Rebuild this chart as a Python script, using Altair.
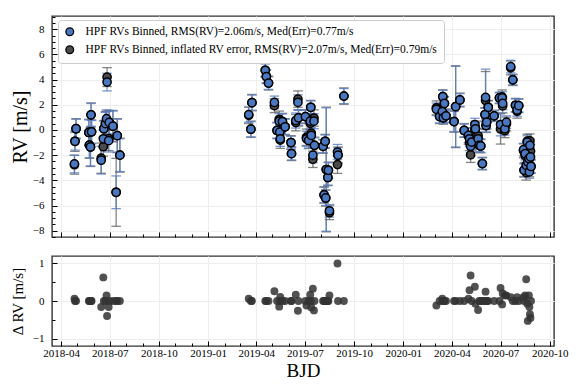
import altair as alt
import pandas as pd

# ---------------- data ----------------
bjd_dates = [
    # 2018 season
    "2018-04-26", "2018-04-27", "2018-04-29", "2018-05-23", "2018-05-24", "2018-05-26",
    "2018-05-27", "2018-05-28", "2018-06-15", "2018-06-19", "2018-06-20", "2018-06-23",
    "2018-06-25", "2018-06-26", "2018-06-29", "2018-06-30", "2018-07-07", "2018-07-13",
    "2018-07-15", "2018-07-20",
    # 2019 season
    "2019-03-18", "2019-03-22", "2019-03-24", "2019-04-18", "2019-04-20", "2019-04-24",
    "2019-05-05", "2019-05-10", "2019-05-14", "2019-05-15", "2019-05-16", "2019-05-20",
    "2019-05-25", "2019-06-05", "2019-06-06", "2019-06-14", "2019-06-18", "2019-06-19",
    "2019-07-02", "2019-07-04", "2019-07-08", "2019-07-11", "2019-07-12", "2019-07-13",
    "2019-07-16", "2019-07-18", "2019-07-19", "2019-08-04", "2019-08-06", "2019-08-08",
    "2019-08-09", "2019-08-10", "2019-08-13", "2019-08-14", "2019-08-16", "2019-08-31",
    "2019-09-01", "2019-09-12",
    # 2020 season
    "2020-03-03", "2020-03-09", "2020-03-14", "2020-03-15", "2020-03-16", "2020-03-18",
    "2020-03-21", "2020-04-05", "2020-04-08", "2020-04-16", "2020-04-24", "2020-05-02",
    "2020-05-04", "2020-05-06", "2020-05-08", "2020-05-14", "2020-05-15", "2020-05-20",
    "2020-05-22", "2020-05-25", "2020-05-28", "2020-06-02", "2020-06-03", "2020-06-04",
    "2020-06-05", "2020-06-08", "2020-06-19", "2020-06-29", "2020-07-01", "2020-07-04",
    "2020-07-05", "2020-07-09", "2020-07-12", "2020-07-20", "2020-07-24", "2020-07-29",
    "2020-08-01", "2020-08-04", "2020-08-13", "2020-08-14", "2020-08-16", "2020-08-18",
    "2020-08-20", "2020-08-21", "2020-08-23", "2020-08-24", "2020-08-25", "2020-08-26",
    "2020-08-27",
]

rv_ms = [
    -2.7, -0.9, 0.1, -0.2, -1.2, -1.35, 1.2, -0.15, -2.4, -0.7, 0.1, 0.5,
    0.9, 3.8, -0.85, 0.6, 0.3, -4.95, -0.45, -2.0,
    1.22, 0.06, 2.17, 4.74, 4.24, 3.72, 2.19, -0.04, 0.7, -0.17, -0.7, 0.67,
    0.25, -1.0, -1.88, 0.75, 2.19, 0.96, 1.06, -0.7, -0.83, 0.7, 1.8, -0.43,
    -2.0, 0.7, -1.22, -1.3, -5.16, -0.9, -5.4, -3.14, -3.77, -3.2, -6.42, -1.75,
    -2.0, 2.69,
    1.64, 1.06, 1.46, 2.64, 0.96, 2.11, 1.12, 0.67, 1.85, 2.38, -0.04, -0.43,
    -0.7, -1.3, -0.96, 0.43, 0.09, -0.7, -1.22, -1.27, -2.67, 1.22, 2.59, 0.35,
    0.62, 1.8, 1.12, 2.54, 0.43, 2.54, 2.11, 0.09, 0.62, 5.03, 3.98, 1.96,
    1.59, 1.93, -1.56, -3.19, -1.88, -2.8, -0.96, -2.54, -2.27, -3.33, -1.22, -2.14,
    -2.9,
]

rv_err_ms = [
    0.7, 0.7, 0.75, 1.0, 1.0, 1.5, 0.9, 0.9, 1.1, 0.7, 0.6, 0.9,
    0.7, 0.7, 0.9, 0.9, 1.2, 1.3, 1.3, 1.3,
    0.6, 0.6, 0.6, 0.5, 0.5, 0.5, 0.5, 0.6, 0.6, 0.6, 0.6, 0.6,
    0.6, 0.5, 0.5, 0.6, 0.6, 0.6, 0.5, 0.6, 0.6, 0.6, 0.5, 0.6,
    0.6, 0.6, 0.6, 0.5, 0.6, 0.5, 0.6, 4.9, 0.6, 0.6, 0.5, 0.6,
    0.6, 0.6,
    0.5, 0.5, 0.5, 0.5, 0.45, 0.5, 0.5, 0.8, 3.2, 0.5, 0.5, 0.6,
    0.6, 0.5, 0.6, 0.5, 0.5, 0.5, 0.5, 0.5, 0.45, 0.5, 2.24, 0.5,
    0.5, 0.5, 0.4, 0.4, 0.9, 0.5, 0.5, 0.5, 0.5, 0.5, 0.4, 0.5,
    0.5, 0.5, 0.5, 0.5, 0.5, 0.5, 0.5, 0.5, 0.5, 0.5, 0.5, 0.5,
    0.5,
]

rv_err_infl_ms = [
    0.75, 0.8, 0.8, 1.05, 1.05, 1.55, 0.95, 0.95, 1.2, 0.75, 0.65, 0.95,
    0.75, 0.75, 0.95, 0.95, 1.25, 2.7, 1.35, 1.35,
    0.65, 0.65, 0.65, 0.55, 0.55, 0.55, 0.55, 0.65, 0.65, 0.65, 0.65, 0.65,
    0.65, 0.55, 0.55, 0.65, 0.65, 0.65, 0.55, 0.65, 0.65, 0.65, 0.55, 0.65,
    0.65, 0.65, 0.65, 0.55, 0.65, 0.55, 0.65, 4.95, 0.65, 0.65, 0.55, 0.7,
    0.65, 0.65,
    0.55, 0.55, 0.55, 0.55, 0.5, 0.55, 0.55, 0.85, 3.25, 0.55, 0.55, 0.65,
    0.65, 0.6, 0.65, 0.55, 0.55, 0.55, 0.55, 0.55, 0.5, 0.55, 2.3, 0.55,
    0.55, 0.55, 0.45, 0.45, 1.2, 0.55, 0.55, 0.55, 0.55, 0.55, 0.45, 0.55,
    0.55, 0.55, 0.55, 0.55, 0.55, 0.6, 0.55, 0.55, 0.55, 0.55, 0.55, 0.55,
    0.55,
]

# difference binned RV minus inflated-error binned RV (lower panel)
delta_rv_ms = [
    0.06, 0.0, 0.0, 0.0, 0.0, 0.0, 0.0, 0.0, -0.16, 0.63, 0.0, 0.0,
    0.15, -0.4, -0.16, 0.0, 0.0, 0.0, 0.0, 0.0,
    0.06, 0.0, 0.0, 0.0, 0.0, 0.0, 0.26, 0.0, -0.15, 0.0, 0.11, 0.0,
    0.0, 0.0, 0.0, 0.17, -0.26, 0.0, 0.0, -0.12, 0.0, 0.17, 0.0, -0.17,
    0.33, -0.25, 0.0, 0.0, 0.0, 0.0, 0.0, 0.0, 0.0, 0.0, 0.15, 1.0,
    0.0, 0.0,
    -0.12, 0.0, 0.06, 0.0, 0.0, 0.0, 0.0, 0.0, 0.0, 0.0, 0.0, 0.06,
    0.29, 0.68, 0.0, 0.38, -0.07, -0.24, 0.0, 0.0, 0.0, 0.0, 0.25, 0.0,
    0.0, 0.0, 0.0, 0.0, 0.35, -0.09, 0.2, 0.15, 0.15, 0.1, 0.0, 0.0,
    0.1, 0.0, 0.1, 0.0, 0.15, 0.58, -0.07, -0.53, 0.15, -0.16, -0.35, -0.45,
    0.0,
]

label_a = "HPF RVs Binned, RMS(RV)=2.06m/s, Med(Err)=0.77m/s"
label_b = "HPF RVs Binned, inflated RV error, RMS(RV)=2.07m/s, Med(Err)=0.79m/s"

x_tick_months = [(2018, 4), (2018, 7), (2018, 10), (2019, 1), (2019, 4), (2019, 7),
                 (2019, 10), (2020, 1), (2020, 4), (2020, 7), (2020, 10)]
x_minor_months = [(y, m) for y in (2018, 2019, 2020) for m in range(1, 13)
                  if (2018, 4) <= (y, m) <= (2020, 10)]
x_domain = [(2018, 3, 15), (2020, 10, 9)]
y_top_ticks = [-8, -6, -4, -2, 0, 2, 4, 6, 8]
y_top_minor = [v / 2 for v in range(-17, 19)]
y_top_domain = [-8.5, 9.05]
y_bot_ticks = [-1, 0, 1]
y_bot_minor = [-1.0, -0.5, 0.0, 0.5, 1.0]
y_bot_domain = [-1.2, 1.2]

# ---------------- tables ----------------
rows = []
for d, r, e, ei, dl in zip(bjd_dates, rv_ms, rv_err_ms, rv_err_infl_ms, delta_rv_ms):
    ri = r - dl
    rows.append(dict(bjd=d, series=label_b, bars=label_b, z=0, rv=ri, lo=ri - ei, hi=ri + ei))
    rows.append(dict(bjd=d, series=label_a, bars=label_a, z=1, rv=r, lo=r - e, hi=r + e))
top_df = pd.DataFrame(rows)
bot_df = pd.DataFrame({"bjd": bjd_dates, "delta": delta_rv_ms})

FONT = "Liberation Serif"
BLUE_FILL = "#4a78c0"
BLUE_BAR = "#5a7fc2"
GRAY_FILL = "#4b4b4b"
GRAY_BAR = "#666666"
GRID = "#eeeeee"

xticks = [alt.DateTime(year=y, month=m, date=1, utc=True) for y, m in x_tick_months]
xminor = [alt.DateTime(year=y, month=m, date=1, utc=True) for y, m in x_minor_months]
xdom = [alt.DateTime(year=y, month=m, date=d, utc=True) for y, m, d in x_domain]
xscale = alt.Scale(type="utc", domain=xdom)

TICK = 5
MTICK = 3
x_axis_top = alt.Axis(values=xticks, labels=False, title=None, offset=-TICK, tickSize=TICK,
                      domain=False, grid=True, gridColor=GRID, tickColor="black", orient="bottom")
x_axis_bot = alt.Axis(values=xticks, format="%Y-%m", title="BJD", offset=-TICK, tickSize=TICK,
                      domain=False, grid=True, gridColor=GRID, tickColor="black",
                      labelPadding=1, titlePadding=3, labelFlush=False, titleFontSize=19,
                      orient="bottom")
y_axis_top = alt.Axis(values=y_top_ticks, title="RV [m/s]", offset=-TICK, tickSize=TICK,
                      domain=False, grid=True, gridColor=GRID, tickColor="black",
                      labelPadding=8, titlePadding=2, titleFontSize=20, orient="left")
y_axis_bot = alt.Axis(values=y_bot_ticks, title="Δ RV [m/s]", offset=-TICK, tickSize=TICK,
                      domain=False, grid=True, gridColor=GRID, tickColor="black",
                      labelPadding=8, titlePadding=7, titleFontSize=15, orient="left")


def minor_x_axis():
    return alt.Axis(values=xminor, labels=False, title=None, offset=-MTICK, tickSize=MTICK,
                    domain=False, grid=False, tickColor="black", orient="bottom")


def minor_y_axis(vals):
    return alt.Axis(values=vals, labels=False, title=None, offset=-MTICK, tickSize=MTICK,
                    domain=False, grid=False, tickColor="black", orient="left")


ys_top = alt.Scale(domain=y_top_domain, nice=False, zero=False)
ys_bot = alt.Scale(domain=y_bot_domain, nice=False, zero=False)

color_enc = alt.Color(
    "series:N", scale=alt.Scale(domain=[label_a, label_b], range=[BLUE_FILL, GRAY_FILL]),
    legend=alt.Legend(title=None, orient="none", legendX=6, legendY=4, fillColor="white",
                      strokeColor="#cccccc", cornerRadius=3, padding=6, labelFont=FONT,
                      labelFontSize=11.5, labelColor="black", labelLimit=600, symbolSize=60,
                      symbolStrokeColor="black", symbolStrokeWidth=1.3, symbolType="circle",
                      rowPadding=4, labelOffset=10))
stroke_enc = alt.Stroke("bars:N",
                        scale=alt.Scale(domain=[label_a, label_b], range=[BLUE_BAR, GRAY_BAR]),
                        legend=None)
X_top = alt.X("bjd:T", scale=xscale, axis=x_axis_top)

base = alt.Chart(top_df)
rules = base.mark_rule(strokeWidth=1.3, opacity=0.8).encode(
    x=X_top, y=alt.Y("lo:Q", scale=ys_top, axis=y_axis_top), y2="hi:Q",
    stroke=stroke_enc, order=alt.Order("z:Q"))
caps = base.transform_fold(["lo", "hi"], as_=["end", "yv"]).mark_point(
    shape="M -1 0 L 1 0", filled=False, size=90, strokeWidth=1.3, opacity=0.8).encode(
    x=X_top, y=alt.Y("yv:Q", scale=ys_top, axis=y_axis_top),
    stroke=stroke_enc, order=alt.Order("z:Q"))
pts = base.mark_circle(size=68, stroke="black", strokeWidth=1.5, opacity=1).encode(
    x=X_top, y=alt.Y("rv:Q", scale=ys_top, axis=y_axis_top), color=color_enc,
    order=alt.Order("z:Q"))

top_main = alt.layer(rules, caps, pts)
top_minor = alt.Chart(top_df).mark_point(opacity=0).encode(
    x=alt.X("bjd:T", scale=xscale, axis=minor_x_axis()),
    y=alt.Y("rv:Q", scale=ys_top, axis=minor_y_axis(y_top_minor)),
)
top = alt.layer(top_main, top_minor).resolve_axis(x="independent", y="independent").properties(
    width=502, height=221)

bot_main = alt.Chart(bot_df).mark_circle(size=62, color="#333333", opacity=0.85).encode(
    x=alt.X("bjd:T", scale=xscale, axis=x_axis_bot),
    y=alt.Y("delta:Q", scale=ys_bot, axis=y_axis_bot),
)
bot_minor = alt.Chart(bot_df).mark_point(opacity=0).encode(
    x=alt.X("bjd:T", scale=xscale, axis=minor_x_axis()),
    y=alt.Y("delta:Q", scale=ys_bot, axis=minor_y_axis(y_bot_minor)),
)
bottom = alt.layer(bot_main, bot_minor).resolve_axis(x="independent", y="independent").properties(
    width=502, height=90)

chart = alt.vconcat(top, bottom, spacing=16).resolve_scale(color="independent").resolve_legend(
    color="independent").properties(
    padding={"left": 1, "top": 7, "right": 0, "bottom": 0}
).configure_view(stroke="#333333", strokeWidth=1.4).configure_axis(
    labelFont=FONT, labelFontSize=11, labelColor="black", titleFont=FONT, titleFontSize=17,
    titleFontWeight="normal", titleColor="black",
)

chart.save("out.html", embed_options={"renderer": "svg", "actions": False})
